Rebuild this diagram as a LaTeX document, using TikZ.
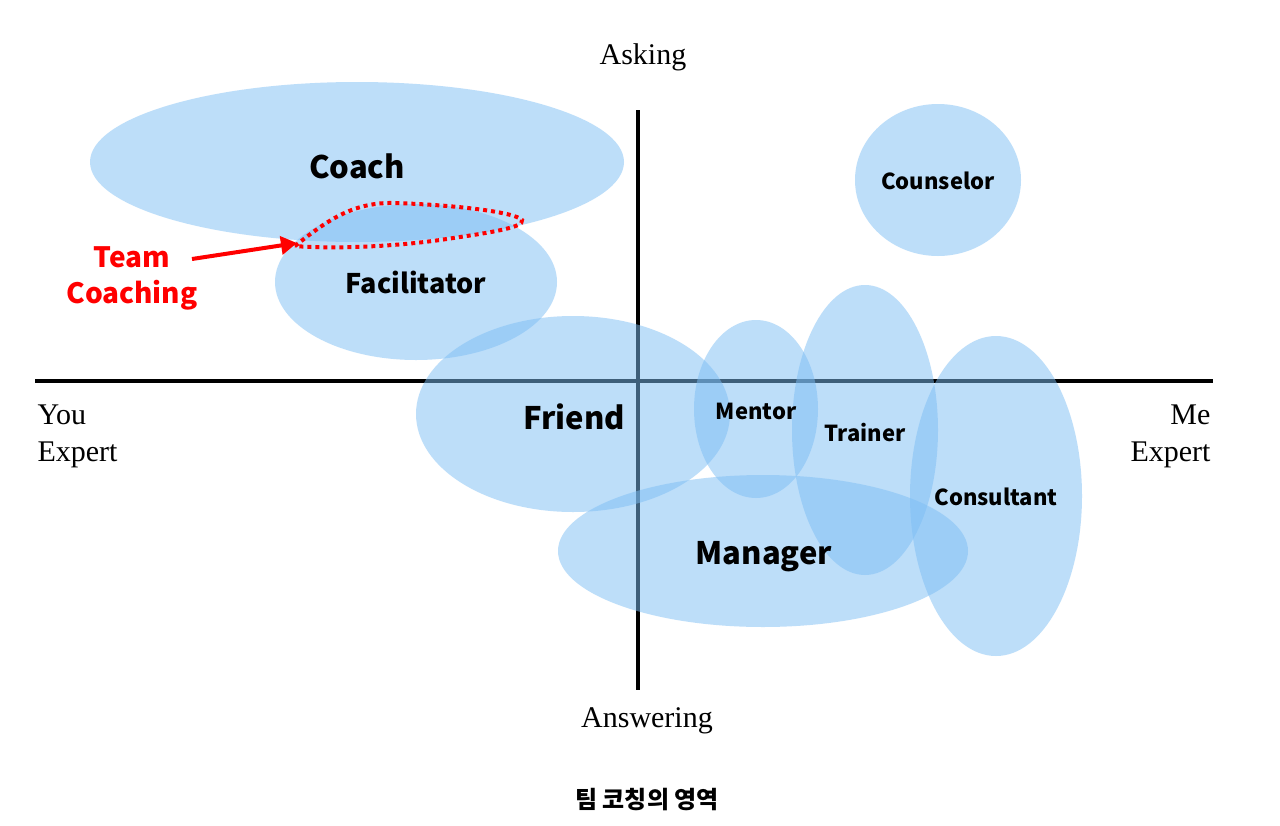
\documentclass[tikz,border=0pt]{standalone}
\usepackage{fontspec}
\setmainfont{Liberation Serif}
\newfontfamily\krfont{Noto Sans CJK KR}
\usetikzlibrary{shapes.geometric,arrows.meta}
\definecolor{bub}{RGB}{125,190,245}
\definecolor{tcred}{RGB}{255,0,0}
\tikzset{
  bubble/.style={ellipse,fill=bub,fill opacity=0.5,draw=none,inner sep=0pt},
  big/.style={font=\krfont\bfseries\fontsize{31}{36}\selectfont},
  mid/.style={font=\krfont\bfseries\fontsize{27}{36}\selectfont},
  tcstyle/.style={font=\krfont\bfseries\fontsize{28}{36}\selectfont},
  small/.style={font=\krfont\bfseries\fontsize{22}{25}\selectfont},
  axislbl/.style={font=\fontsize{30}{37}\selectfont},
  axisline/.style={line width=4pt,black}
}
\begin{document}
\begin{tikzpicture}[x=1pt,y=-1pt]
\useasboundingbox[fill=white] (0,0) rectangle (1280,825);
% axes
\coordinate (hl) at (35,381);
\coordinate (hr) at (1213,381);
\coordinate (vt) at (638,110);
\coordinate (vb) at (638,690);
\draw[axisline] (hl) -- (hr);
\draw[axisline] (vt) -- (vb);
% bubbles
\node[bubble,minimum width=534,minimum height=160] (coach) at (357,162) {};
\node[bubble,minimum width=282,minimum height=156] (facil) at (416,282) {};
\node[bubble,minimum width=166,minimum height=152] (couns) at (938,180) {};
\node[bubble,minimum width=314,minimum height=196] (friend) at (573,414) {};
\node[bubble,minimum width=124,minimum height=178] (mentor) at (756,409) {};
\node[bubble,minimum width=146,minimum height=290] (trainer) at (865,430) {};
\node[bubble,minimum width=172,minimum height=320] (consul) at (996,496) {};
\node[bubble,minimum width=410,minimum height=152] (manager) at (763,551) {};
% labels
\node[big] (coachl) at (357,166) {Coach};
\node[mid] (facill) at (416,282) {Facilitator};
\node[small] (counsl) at (938,181) {Counselor};
\node[big] (friendl) at (574,417) {Friend};
\node[small] (mentorl) at (756,411) {Mentor};
\node[small] (trainerl) at (865,433) {Trainer};
\node[small] (consull) at (996,497) {Consultant};
\node[big] (managerl) at (764,557) {Manager};
% axis labels
\node[axislbl] (asking) at (643,57) {Asking};
\node[axislbl] (answering) at (647,721) {Answering};
\node[axislbl,align=left,anchor=west] (you) at (34,436) {You\\Expert};
\node[axislbl,align=right,anchor=east] (me) at (1214,436) {Me\\Expert};
% team coaching
\draw[tcred,line width=4pt,dash pattern=on 4pt off 4pt]
  (295,246) .. controls (330,218) and (355,202) .. (395,203)
  .. controls (455,205) and (515,212) .. (522,220)
  .. controls (526,228) and (480,234) .. (440,240)
  .. controls (390,247) and (330,249) .. cycle;
\coordinate (tctip) at (297,243);
\node[tcstyle,text=tcred,align=center] (tc) at (132,278) {Team\\Coaching};
\coordinate (tcstart) at (192,259);
\draw[tcred,line width=4pt,-{Triangle[length=16pt,width=18pt]}] (tcstart) -- (tctip);
% caption
\node[font=\krfont\bfseries\fontsize{24}{28}\selectfont] (cap) at (647,800) {팀 코칭의 영역};
\end{tikzpicture}
\end{document}
